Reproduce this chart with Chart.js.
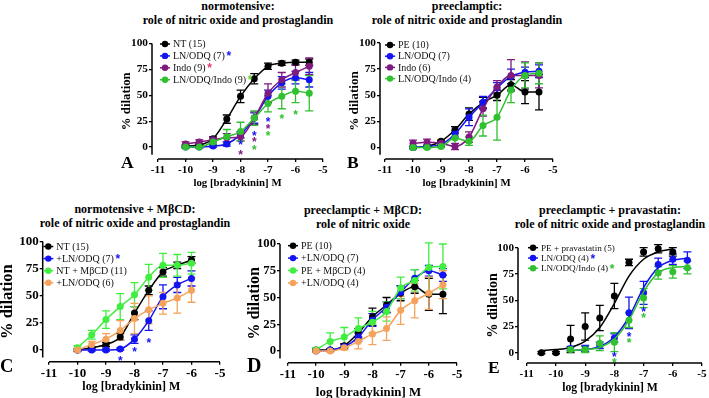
<!DOCTYPE html>
<html>
<head>
<meta charset="utf-8">
<script src="https://cdn.jsdelivr.net/npm/chart.js@4.4.1/dist/chart.umd.min.js"></script>
<style>
  body { margin:0; background:#fff; width:709px; height:398px; position:relative; overflow:hidden; }
  canvas { position:absolute; }
  .ttl { position:absolute; width:260px; margin-left:-130px; text-align:center;
         font:bold 12px "Liberation Serif", serif; line-height:13.5px; color:#000; white-space:nowrap; }
  .let { position:absolute; font-family:"Liberation Serif", serif; font-weight:bold; line-height:1; color:#000; }
</style>
</head>
<body>
<div class="ttl" style="left:238px;top:0px">normotensive:<br>role of nitric oxide and prostaglandin</div>
<div class="ttl" style="left:467px;top:0px">preeclamptic:<br>role of nitric oxide and prostaglandin</div>
<div class="ttl" style="left:135px;top:203px">normotensive + MβCD:<br>role of nitric oxide and prostaglandin</div>
<div class="ttl" style="left:363px;top:204px">preeclamptic + MβCD:<br>role of nitric oxide</div>
<div class="ttl" style="left:610px;top:204px">preeclamptic + pravastatin:<br>role of nitric oxide and prostaglandin</div>

<canvas id="chartA"></canvas>
<canvas id="chartB"></canvas>
<canvas id="chartC"></canvas>
<canvas id="chartD"></canvas>
<canvas id="chartE"></canvas>

<div class="let" style="left:121px;top:154px;font-size:17.5px">A</div>
<div class="let" style="left:347px;top:154px;font-size:17.5px">B</div>
<div class="let" style="left:0px;top:357px;font-size:18.5px">C</div>
<div class="let" style="left:247px;top:355px;font-size:20px">D</div>
<div class="let" style="left:488px;top:359px;font-size:17.5px">E</div>

<script>
// log [bradykinin] M
const doses = [-10, -9.5, -9, -8.5, -8, -7.5, -7, -6.5, -6, -5.5];
const dosesC = [-10, -9.5, -9, -8.5, -8, -7.5, -7, -6.5, -6];
const dosesEpe = [-10.5, -10, -9.5, -9, -8.5, -8, -7.5, -7, -6.5, -6];
const dosesEln = [-9.5, -9, -8.5, -8, -7.5, -7, -6.5, -6, -5.5];
const xTicks = [-11, -10, -9, -8, -7, -6, -5];
const yTicks = [0, 25, 50, 75, 100];

// A: normotensive
const ntA = [1, 2, 8, 27, 49, 66, 78, 81, 82, 82];
const ntA_sem = [1, 1, 2, 4, 6, 5, 3, 2, 2, 3];
const lnOdqA = [0, 0, 1, 3, 12, 28, 49, 62, 67, 65];
const lnOdqA_sem = [1, 1, 1, 2, 3, 5, 6, 6, 6, 7];
const indoA = [3, 5, 7, 9, 10, 28, 52, 65, 72, 78];
const indoA_sem = [2, 2, 3, 4, 4, 6, 9, 7, 7, 8];
const lnOdqIndoA = [0, 0, 5, 10, 15, 28, 42, 49, 54, 52];
const lnOdqIndoA_sem = [1, 1, 3, 7, 9, 7, 8, 12, 11, 17];
const starsA = [[-8, 4, 1], [-8, -5, 2], [-7.5, 13.5, 1], [-7.5, 7, 2], [-7.5, 0, 3],
                [-7, 27, 1], [-7, 20, 2], [-7, 13.5, 3], [-6.5, 30, 3], [-6, 33, 3]];

// B: preeclamptic
const peB = [0, 1, 6, 17, 32, 43, 50, 60, 53, 53];
const peB_sem = [1, 1, 1, 3, 6, 5, 5, 5, 11, 17];
const lnOdqB = [0, 1, 3, 13, 29, 43, 57, 68, 72, 73];
const lnOdqB_sem = [1, 1, 2, 3, 8, 6, 5, 7, 5, 6];
const indoB = [4, 5, 4, 1, 10, 37, 58, 69, 69, 69];
const indoB_sem = [3, 3, 2, 3, 5, 7, 6, 15, 13, 12];
const lnOdqIndoB = [0, 0, 1, 9, 6, 21, 29, 55, 69, 71];
const lnOdqIndoB_sem = [1, 1, 1, 7, 4, 10, 22, 12, 12, 10];

// C: normotensive + MbCD
const ntC = [0, 2, 5, 12, 34, 55, 72, 78, 83];
const ntC_sem = [1, 1, 2, 3, 6, 4, 4, 3, 3];
const lnOdqC = [0, 0, 0, 1, 10, 27, 49, 60, 66];
const lnOdqC_sem = [1, 1, 1, 1, 4, 9, 11, 7, 7];
const mbcdC = [2, 14, 28, 40, 51, 67, 78, 78, 80];
const mbcdC_sem = [2, 4, 8, 12, 11, 12, 11, 10, 10];
const mbcdLnC = [0, 5, 10, 18, 29, 37, 43, 48, 55];
const mbcdLnC_sem = [1, 3, 5, 9, 14, 13, 10, 14, 11];
const starsC = [[-8.5, -7.5, 1], [-8, 0, 1], [-7.5, 8.6, 1]];

// D: preeclamptic + MbCD
const peD = [1, 1, 5, 17, 32, 43, 54, 60, 53, 53];
const peD_sem = [1, 1, 2, 4, 8, 7, 7, 6, 15, 18];
const lnOdqD = [0, 1, 4, 13, 29, 41, 55, 68, 75, 71];
const lnOdqD_sem = [1, 1, 2, 4, 6, 5, 6, 8, 5, 6];
const mbcdD = [1, 9, 13, 21, 27, 37, 59, 66, 78, 79];
const mbcdD_sem = [2, 8, 9, 10, 10, 9, 10, 10, 23, 21];
const mbcdLnD = [0, 0, 3, 9, 16, 21, 38, 47, 54, 62];
const mbcdLnD_sem = [1, 1, 2, 7, 10, 11, 13, 16, 15, 13];

// E: preeclamptic + pravastatin
const pravE = [0, 0, 13, 25, 33, 54, 86, 96, 99, 96];
const pravE_sem = [1, 1, 13, 13, 12, 12, 3, 4, 4, 4];
const pravE_fit = [2, 3, 5, 11, 24, 47, 73, 89, 96, 99];
const lnOdqE = [4, 4, 7, 14, 38, 57, 84, 89, 88];
const lnOdqE_sem = [2, 3, 3, 4, 15, 11, 6, 5, 8];
const lnOdqE_fit = [2, 3, 6, 15, 34, 62, 81, 88, 90];
const lnOdqIndoE = [3, 3, 9, 10, 31, 52, 76, 77, 81];
const lnOdqIndoE_sem = [2, 3, 7, 9, 7, 9, 6, 6, 6];
const lnOdqIndoE_fit = [2, 3, 5, 13, 31, 58, 76, 81, 82];
const starsE = [[-8, -2, 1], [-8, -7, 2], [-7.5, 17.5, 1], [-7.5, 12, 2], [-7, 40.7, 1], [-7, 35, 2]];

const BLACK = '#000000', BLUE = '#1414f2', PURPLE = '#7e1a80', GREEN = '#30c030',
      LIME = '#40ee40', ORANGE = '#f5a35c', PINK = '#e43a72', LGREEN = '#70d040';
const SERIF = '"Liberation Serif", "Times New Roman", serif';

Chart.defaults.font.family = SERIF;
Chart.defaults.color = '#000';

const errorBars = {
  id: 'errorBars',
  beforeDatasetsDraw(chart) {
    const ctx = chart.ctx, xs = chart.scales.x, ys = chart.scales.y;
    chart.data.datasets.forEach(ds => {
      if (!ds.sem) return;
      ctx.save();
      ctx.strokeStyle = ds.borderColor;
      ctx.lineWidth = 1.3;
      ds.data.forEach((p, i) => {
        const s = ds.sem[i];
        const x = xs.getPixelForValue(p.x);
        const y1 = ys.getPixelForValue(p.y - s), y2 = ys.getPixelForValue(p.y + s);
        ctx.beginPath();
        ctx.moveTo(x, y1); ctx.lineTo(x, y2);
        ctx.moveTo(x - 4, y1); ctx.lineTo(x + 4, y1);
        ctx.moveTo(x - 4, y2); ctx.lineTo(x + 4, y2);
        ctx.stroke();
      });
      ctx.restore();
    });
  }
};

const axisLines = {
  id: 'axisLines',
  afterDraw(chart, args, o) {
    const {ctx, chartArea: a, scales: {x, y}} = chart;
    ctx.save();
    ctx.strokeStyle = '#000';
    ctx.lineWidth = 1.5;
    ctx.beginPath();
    ctx.moveTo(a.left, y.getPixelForValue(100));
    ctx.lineTo(a.left, y.getPixelForValue(o.yEnd));
    ctx.moveTo(x.getPixelForValue(-11), a.bottom);
    ctx.lineTo(x.getPixelForValue(-5), a.bottom);
    ctx.stroke();
    ctx.restore();
  }
};

function centeredStar(ctx, x, y) {
  const m = ctx.measureText('*');
  ctx.fillText('*', x - m.width / 2, y + (m.actualBoundingBoxAscent - m.actualBoundingBoxDescent) / 2);
}

const sigStars = {
  id: 'sigStars',
  afterDatasetsDraw(chart, args, o) {
    const {ctx, scales: {x, y}} = chart;
    ctx.save();
    ctx.font = 'bold 12px "Liberation Sans"';
    ctx.textBaseline = 'alphabetic';
    o.marks.forEach(m => {
      ctx.fillStyle = o.colors[m[2]];
      centeredStar(ctx, x.getPixelForValue(m[0]), y.getPixelForValue(m[1]));
    });
    ctx.restore();
  }
};

const prismLegend = {
  id: 'prismLegend',
  afterDraw(chart, args, o) {
    const {ctx, chartArea: a} = chart;
    ctx.save();
    o.items.forEach((it, i) => {
      const x = a.left + o.dx, y = a.top + o.dy + i * o.gap;
      ctx.strokeStyle = it.color;
      ctx.fillStyle = it.color;
      ctx.lineWidth = 1.5;
      ctx.beginPath(); ctx.moveTo(x - 5, y); ctx.lineTo(x + 5, y); ctx.stroke();
      ctx.beginPath(); ctx.arc(x, y, 3.2, 0, Math.PI * 2); ctx.fill();
      ctx.font = o.size + 'px ' + SERIF;
      ctx.textBaseline = 'middle';
      ctx.fillStyle = '#111';
      ctx.fillText(it.label, x + 8, y + 0.5);
      if (it.star) {
        const w = ctx.measureText(it.label).width;
        ctx.font = 'bold 12px "Liberation Sans"';
        ctx.textBaseline = 'alphabetic';
        ctx.fillStyle = it.star;
        centeredStar(ctx, x + 12 + w, y - 2);
      }
    });
    ctx.restore();
  }
};

function pts(xv, yv) { return xv.map((d, i) => ({x: d, y: yv[i]})); }

function buildPanel(id, lay, series, stars) {
  const lhY = lay.yTitle * 1.2, lhX = lay.xTitle * 1.2;
  const left = Math.round(lay.yTitleX - lhY / 2);
  const top = Math.round(lay.T - 12);
  const right = Math.round(lay.R + 14);
  const bottom = Math.round(lay.xTitleY + lhX / 2);
  const wy = lay.L - left, hx = bottom - lay.B;
  const cv = document.getElementById(id);
  cv.width = right - left; cv.height = bottom - top;
  cv.style.left = left + 'px'; cv.style.top = top + 'px';

  const datasets = [];
  series.forEach((s, k) => {
    if (s.fit) {
      datasets.push({data: pts(s.fitDoses, s.fit), showLine: true, pointRadius: 0,
        borderColor: s.color, borderWidth: 1.5, cubicInterpolationMode: 'monotone', clip: false, order: -k});
      datasets.push({data: pts(s.doses, s.mean), sem: s.sem, showLine: false, pointRadius: 3.5,
        pointBorderWidth: 0, backgroundColor: s.color, borderColor: s.color, clip: false, order: -k - 0.5});
    } else {
      datasets.push({data: pts(s.doses, s.mean), sem: s.sem, showLine: true, pointRadius: 3.5,
        pointBorderWidth: 0, backgroundColor: s.color, borderColor: s.color, borderWidth: 1.5,
        cubicInterpolationMode: 'monotone', clip: false, order: -k});
    }
  });

  const tickFont = {family: SERIF, size: lay.tick, weight: 'bold'};
  const grid = {drawOnChartArea: false, drawTicks: true, tickLength: 3, color: '#000', lineWidth: 1.3};
  new Chart(cv, {
    type: 'scatter',
    data: {datasets},
    options: {
      responsive: false, animation: false, devicePixelRatio: 1,
      layout: {padding: {top: lay.T - top, right: right - lay.R, left: 0, bottom: 0}},
      plugins: {
        legend: {display: false}, tooltip: {enabled: false},
        axisLines: {yEnd: lay.yEnd},
        sigStars: {marks: stars, colors: series.map(s => s.color)},
        prismLegend: {items: series.map(s => ({label: s.label, color: s.color, star: s.star})),
                      size: lay.leg.size, dx: lay.leg.dx, dy: lay.leg.dy, gap: lay.leg.gap}
      },
      scales: {
        x: {
          type: 'linear', min: lay.xmin, max: -5,
          afterBuildTicks: sc => { sc.ticks = xTicks.map(v => ({value: v})); },
          afterFit: sc => { sc.height = hx; },
          grid, border: {display: false},
          ticks: {font: tickFont, padding: 1, autoSkip: false, maxRotation: 0, color: '#000',
                  callback: v => String(v)},
          title: {display: true, text: 'log [bradykinin] M', padding: 0,
                  font: {family: SERIF, size: lay.xTitle, weight: 'bold'}, color: '#000'}
        },
        y: {
          min: lay.ymin, max: 100,
          afterBuildTicks: sc => { sc.ticks = yTicks.map(v => ({value: v})); },
          afterFit: sc => { sc.width = wy; },
          grid, border: {display: false},
          ticks: {font: tickFont, padding: 1, color: '#000', callback: v => String(v)},
          title: {display: true, text: '% dilation', padding: 0,
                  font: {family: SERIF, size: lay.yTitle, weight: 'bold'}, color: '#000'}
        }
      }
    },
    plugins: [errorBars, axisLines, sigStars, prismLegend]
  });
}

buildPanel('chartA',
  {L: 152, T: 43.5, R: 323, B: 159, xmin: -11.22, ymin: -11.5, yEnd: -7.5, yTitleX: 127, xTitleY: 183.5,
   tick: 11.3, yTitle: 12.8, xTitle: 10.8, leg: {size: 10, dx: 13, dy: 0.5, gap: 11.9}},
  [{label: 'NT (15)', color: BLACK, doses, mean: ntA, sem: ntA_sem},
   {label: 'LN/ODQ (7)', color: BLUE, doses, mean: lnOdqA, sem: lnOdqA_sem, star: BLUE},
   {label: 'Indo (9)', color: PURPLE, doses, mean: indoA, sem: indoA_sem, star: PINK},
   {label: 'LN/ODQ/Indo (9)', color: GREEN, doses, mean: lnOdqIndoA, sem: lnOdqIndoA_sem, star: LGREEN}],
  starsA);

buildPanel('chartB',
  {L: 380, T: 43, R: 553, B: 159, xmin: -11.18, ymin: -11, yEnd: -7, yTitleX: 355, xTitleY: 183.5,
   tick: 11.3, yTitle: 13.2, xTitle: 10.8, leg: {size: 10, dx: 10, dy: 2, gap: 11.2}},
  [{label: 'PE (10)', color: BLACK, doses, mean: peB, sem: peB_sem},
   {label: 'LN/ODQ (7)', color: BLUE, doses, mean: lnOdqB, sem: lnOdqB_sem},
   {label: 'Indo (6)', color: PURPLE, doses, mean: indoB, sem: indoB_sem},
   {label: 'LN/ODQ/Indo (4)', color: GREEN, doses, mean: lnOdqIndoB, sem: lnOdqIndoB_sem}],
  []);

buildPanel('chartC',
  {L: 42.7, T: 241.5, R: 220, B: 361.7, xmin: -11.22, ymin: -10.8, yEnd: -7, yTitleX: 8, xTitleY: 387,
   tick: 13, yTitle: 16.5, xTitle: 12, leg: {size: 10, dx: 5.6, dy: 5, gap: 12.1}},
  [{label: 'NT (15)', color: BLACK, doses: dosesC, mean: ntC, sem: ntC_sem},
   {label: '+LN/ODQ (7)', color: BLUE, doses: dosesC, mean: lnOdqC, sem: lnOdqC_sem, star: BLUE},
   {label: 'NT + MβCD (11)', color: LIME, doses: dosesC, mean: mbcdC, sem: mbcdC_sem},
   {label: '+LN/ODQ (6)', color: ORANGE, doses: dosesC, mean: mbcdLnC, sem: mbcdLnC_sem}],
  starsC);

buildPanel('chartD',
  {L: 280, T: 244, R: 457, B: 362.7, xmin: -11.28, ymin: -10.9, yEnd: -7, yTitleX: 255, xTitleY: 392,
   tick: 12.7, yTitle: 16, xTitle: 12.9, leg: {size: 10, dx: 13, dy: 1.7, gap: 12.4}},
  [{label: 'PE (10)', color: BLACK, doses, mean: peD, sem: peD_sem},
   {label: '+LN/ODQ (7)', color: BLUE, doses, mean: lnOdqD, sem: lnOdqD_sem},
   {label: 'PE + MβCD (4)', color: LIME, doses, mean: mbcdD, sem: mbcdD_sem},
   {label: '+LN/ODQ (4)', color: ORANGE, doses, mean: mbcdLnD, sem: mbcdLnD_sem}],
  []);

buildPanel('chartE',
  {L: 518, T: 247.7, R: 702, B: 363, xmin: -11.3, ymin: -9.8, yEnd: -7, yTitleX: 494, xTitleY: 388,
   tick: 11.2, yTitle: 14.3, xTitle: 11.7, leg: {size: 9.2, dx: 15, dy: 0, gap: 10.3}},
  [{label: 'PE + pravastatin (5)', color: BLACK, doses: dosesEpe, mean: pravE, sem: pravE_sem,
    fit: pravE_fit, fitDoses: dosesEpe},
   {label: 'LN/ODQ (4)', color: BLUE, doses: dosesEln, mean: lnOdqE, sem: lnOdqE_sem,
    fit: lnOdqE_fit, fitDoses: dosesEln, star: BLUE},
   {label: 'LN/ODQ/Indo (4)', color: GREEN, doses: dosesEln, mean: lnOdqIndoE, sem: lnOdqIndoE_sem,
    fit: lnOdqIndoE_fit, fitDoses: dosesEln, star: GREEN}],
  starsE);
</script>
</body>
</html>
